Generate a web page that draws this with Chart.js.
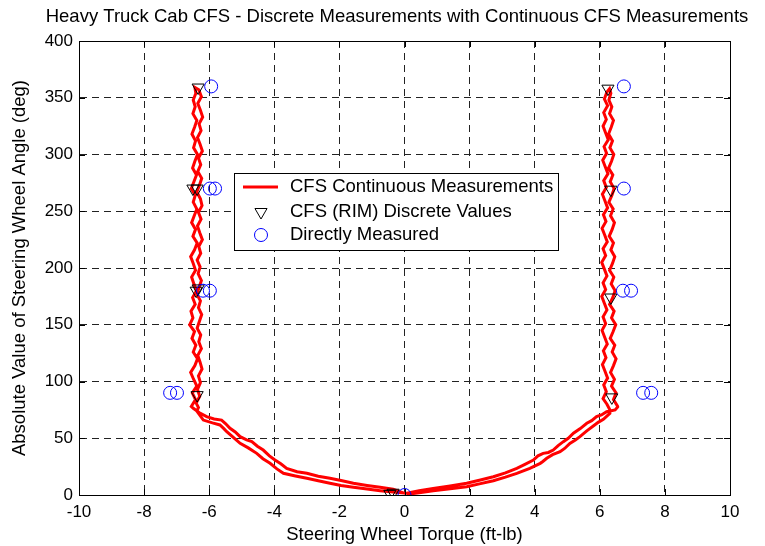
<!DOCTYPE html>
<html>
<head>
<meta charset="utf-8">
<script src="https://cdn.jsdelivr.net/npm/chart.js@4/dist/chart.umd.min.js"></script>
<style>
  html, body { margin: 0; padding: 0; background: #fff; }
  #wrap { width: 765px; height: 546px; }
</style>
</head>
<body>
<div id="wrap"><canvas id="cfs_chart" width="765" height="546"></canvas></div>
<script>
// Ejes
var xTicks = [-10, -8, -6, -4, -2, 0, 2, 4, 6, 8, 10];
var yTicks = [0, 50, 100, 150, 200, 250, 300, 350, 400];

// Curva continua CFS, por tramos [torque, angulo]
var leftLowOut = [[0.05,1.0],[-0.35,5.0],[-0.75,6.8],[-1.15,8.4],[-1.57,10.3],[-1.95,12.8],[-2.29,14.7],[-2.65,16.6],[-3.00,19.1],[-3.30,20.5],[-3.62,23.5],[-3.80,27.5],[-3.98,30.8],[-4.15,34.5],[-4.34,39.6],[-4.52,43.0],[-4.69,47.0],[-4.85,48.5],[-5.05,51.4],[-5.20,55.5],[-5.36,58.8],[-5.50,63.0],[-5.62,66.0],[-5.85,67.0],[-6.08,69.0],[-6.30,72.5],[-6.49,76.4]];
var leftUp = [[-6.55,78],[-6.42,84],[-6.52,90],[-6.38,96],[-6.48,102],[-6.57,108],[-6.44,114],[-6.36,120],[-6.49,126],[-6.41,132],[-6.53,138],[-6.45,144],[-6.60,150],[-6.50,156],[-6.56,162],[-6.43,168],[-6.51,174],[-6.39,180],[-6.47,186],[-6.54,192],[-6.42,198],[-6.49,204],[-6.57,210],[-6.45,216],[-6.37,222],[-6.50,228],[-6.42,234],[-6.54,240],[-6.46,246],[-6.38,252],[-6.49,258],[-6.43,264],[-6.55,270],[-6.47,276],[-6.39,282],[-6.51,288],[-6.44,294],[-6.36,300],[-6.48,306],[-6.42,312],[-6.53,318],[-6.45,324],[-6.38,330],[-6.50,336],[-6.43,342],[-6.49,348],[-6.41,354],[-6.44,359]];
var leftDown = [[-6.32,357],[-6.24,351],[-6.35,345],[-6.27,339],[-6.20,333],[-6.31,327],[-6.25,321],[-6.36,315],[-6.28,309],[-6.21,303],[-6.33,297],[-6.26,291],[-6.35,285],[-6.23,279],[-6.30,273],[-6.38,267],[-6.27,261],[-6.22,255],[-6.33,249],[-6.25,243],[-6.36,237],[-6.29,231],[-6.21,225],[-6.32,219],[-6.26,213],[-6.37,207],[-6.28,201],[-6.34,195],[-6.24,189],[-6.31,183],[-6.38,177],[-6.27,171],[-6.33,165],[-6.23,159],[-6.30,153],[-6.37,147],[-6.26,141],[-6.32,135],[-6.24,129],[-6.35,123],[-6.28,117],[-6.22,111],[-6.33,105],[-6.27,99],[-6.36,93],[-6.29,87],[-6.40,81],[-6.33,77]];
var leftLowIn = [[-6.38,74],[-6.18,66],[-5.90,63.5],[-5.67,61.7],[-5.55,58.5],[-5.46,55.8],[-5.25,50.5],[-5.05,45.5],[-4.80,41.5],[-4.54,36.7],[-4.35,32.0],[-4.13,27.9],[-3.92,23.0],[-3.72,19.1],[-3.35,16.8],[-3.00,14.7],[-2.65,12.5],[-2.29,10.3],[-1.95,8.4],[-1.57,6.8],[-1.15,5.2],[-0.75,3.8],[-0.35,2.6],[0.07,1.5]];
var rightLowOut = [[0.07,1.5],[0.45,3.8],[0.88,5.8],[1.40,8.0],[1.91,10.3],[2.30,13.0],[2.73,16.1],[3.10,19.5],[3.45,23.5],[3.70,27.0],[3.96,30.8],[4.10,34.5],[4.26,36.7],[4.42,37.5],[4.57,39.6],[4.72,43.5],[4.88,47.0],[5.03,50.0],[5.19,54.4],[5.40,58.5],[5.60,63.2],[5.75,65.5],[5.90,69.0],[6.05,70.5],[6.21,73.4],[6.47,74.9],[6.55,77.5]];
var rightUp = [[6.55,78],[6.42,84],[6.50,90],[6.36,96],[6.45,102],[6.33,108],[6.42,114],[6.50,120],[6.38,126],[6.46,132],[6.32,138],[6.41,144],[6.49,150],[6.36,156],[6.44,162],[6.30,168],[6.40,174],[6.47,180],[6.35,186],[6.43,192],[6.30,198],[6.39,204],[6.46,210],[6.34,216],[6.42,222],[6.29,228],[6.38,234],[6.45,240],[6.33,246],[6.41,252],[6.28,258],[6.37,264],[6.44,270],[6.32,276],[6.40,282],[6.27,288],[6.36,294],[6.43,300],[6.31,306],[6.39,312],[6.27,318],[6.35,324],[6.42,330],[6.30,336],[6.37,342],[6.28,348],[6.34,354],[6.30,358]];
var rightDown = [[6.22,355],[6.14,349],[6.24,343],[6.12,337],[6.20,331],[6.10,325],[6.18,319],[6.26,313],[6.13,307],[6.21,301],[6.09,295],[6.17,289],[6.25,283],[6.12,277],[6.20,271],[6.08,265],[6.16,259],[6.24,253],[6.11,247],[6.19,241],[6.07,235],[6.15,229],[6.23,223],[6.10,217],[6.18,211],[6.06,205],[6.14,199],[6.22,193],[6.10,187],[6.18,181],[6.06,175],[6.14,169],[6.22,163],[6.10,157],[6.18,151],[6.07,145],[6.15,139],[6.23,133],[6.11,127],[6.19,121],[6.08,115],[6.16,109],[6.24,103],[6.12,97],[6.20,91],[6.10,85],[6.22,80],[6.31,75]];
var rightLowIn = [[6.31,72],[6.11,66.7],[5.95,64.0],[5.80,60.8],[5.60,56.5],[5.39,51.4],[5.25,48.5],[5.08,45.5],[4.92,41.0],[4.78,38.1],[4.55,35.5],[4.37,32.3],[4.25,29.5],[4.17,27.9],[3.85,23.5],[3.45,19.1],[3.10,15.8],[2.73,12.6],[2.30,9.8],[1.91,7.3],[1.40,5.5],[0.88,3.8],[0.45,2.0],[0.07,0.5]];

// Valores discretos CFS (RIM)
var rimX = [-6.34, -6.50, -6.37, -6.34, -6.40, -6.37, 6.25, 6.34, 6.34, 6.37, -0.45, -0.35];
var rimY = [359, 270, 270, 182, 180, 88, 358, 269, 174, 86, 1, 2];

// Medidos directamente
var measX = [-5.94, -5.98, -5.82, -6.19, -5.98, -7.20, -6.99, 6.74, 6.74, 6.71, 6.96, 7.33, 7.58, 0.00];
var measY = [360, 270, 270, 180, 180, 90, 90, 360, 270, 180, 180, 90, 90, 0];

var chartTitle = "Heavy Truck Cab CFS - Discrete Measurements with Continuous CFS Measurements";
var legendLabels = ["CFS Continuous Measurements", "CFS (RIM) Discrete Values", "Directly Measured"];

function toPoints(xs, ys) {
  var pts = [];
  for (var i = 0; i < xs.length; i++) pts.push({ x: xs[i], y: ys[i] });
  return pts;
}

var cfsPath = [].concat(leftLowOut, leftUp, leftDown, leftLowIn, rightLowOut, rightUp, rightDown, rightLowIn)
  .map(function (p) { return { x: p[0], y: p[1] }; });

var FONT = "'Liberation Sans', Arial, sans-serif";

// Titulo, caja del eje, marcas internas y leyenda estilo MATLAB
var matlabFrame = {
  id: "matlabFrame",
  afterDraw: function (chart) {
    var ctx = chart.ctx;
    var a = chart.chartArea;
    var xs = chart.scales.x, ys = chart.scales.y;
    ctx.save();

    ctx.font = "18.5px " + FONT;
    ctx.fillStyle = "#000";
    ctx.textAlign = "center";
    ctx.textBaseline = "middle";
    ctx.fillText(chartTitle, 397, 17);

    ctx.strokeStyle = "#000";
    ctx.lineWidth = 1;
    ctx.setLineDash([]);
    ctx.strokeRect(Math.round(a.left) + 0.5, Math.round(a.top) + 0.5, Math.round(a.right - a.left), Math.round(a.bottom - a.top));
    ctx.beginPath();
    xTicks.forEach(function (v) {
      var px = Math.round(xs.getPixelForValue(v)) + 0.5;
      ctx.moveTo(px, a.bottom); ctx.lineTo(px, a.bottom - 6);
      ctx.moveTo(px, a.top); ctx.lineTo(px, a.top + 6);
    });
    yTicks.forEach(function (v) {
      var py = Math.round(ys.getPixelForValue(v)) + 0.5;
      ctx.moveTo(a.left, py); ctx.lineTo(a.left + 6, py);
      ctx.moveTo(a.right, py); ctx.lineTo(a.right - 6, py);
    });
    ctx.stroke();

    // leyenda
    var lx = 234, ly = 173, lw = 324, lh = 77;
    ctx.fillStyle = "#fff";
    ctx.fillRect(lx, ly, lw, lh);
    ctx.strokeStyle = "#000";
    ctx.strokeRect(lx + 0.5, ly + 0.5, lw, lh);
    ctx.font = "18.5px " + FONT;
    ctx.fillStyle = "#000";
    ctx.textBaseline = "middle";
    ctx.textAlign = "left";
    var rows = [187, 212, 235];
    legendLabels.forEach(function (t, i) { ctx.fillText(t, 290, rows[i]); });
    ctx.strokeStyle = "#ff0000";
    ctx.lineWidth = 3;
    ctx.beginPath(); ctx.moveTo(243, rows[0]); ctx.lineTo(278, rows[0]); ctx.stroke();
    ctx.lineWidth = 1;
    ctx.strokeStyle = "#000";
    ctx.fillStyle = "rgba(0,0,0,0)";
    Chart.helpers.drawPoint(ctx, { pointStyle: "triangle", rotation: 180, radius: 7, borderWidth: 1 }, 261, rows[1]);
    ctx.strokeStyle = "#0000ff";
    ctx.beginPath(); ctx.arc(261, rows[2], 6.5, 0, Math.PI * 2); ctx.stroke();
    ctx.restore();
  }
};

var ctx = document.getElementById("cfs_chart").getContext("2d");
var cfsChart = new Chart(ctx, {
  type: "scatter",
  data: {
    datasets: [
      {
        label: "Directly Measured",
        data: toPoints(measX, measY),
        pointStyle: "circle",
        pointRadius: 6.5,
        pointBorderColor: "#0000ff",
        pointBackgroundColor: "rgba(0,0,0,0)",
        pointBorderWidth: 1,
        order: 0
      },
      {
        label: "CFS (RIM) Discrete Values",
        data: toPoints(rimX, rimY),
        pointStyle: "triangle",
        pointRotation: 180,
        pointRadius: 7,
        pointBorderColor: "#000",
        pointBackgroundColor: "rgba(0,0,0,0)",
        pointBorderWidth: 1,
        order: 1
      },
      {
        label: "CFS Continuous Measurements",
        data: cfsPath,
        showLine: true,
        borderColor: "#ff0000",
        borderWidth: 3,
        pointRadius: 0,
        tension: 0,
        order: 2
      }
    ]
  },
  options: {
    responsive: false,
    animation: false,
    events: [],
    layout: { padding: { left: 0, right: 35, top: 41, bottom: 0 } },
    scales: {
      x: {
        type: "linear",
        min: -10,
        max: 10,
        afterFit: function (s) { s.height = 51; },
        afterBuildTicks: function (s) { s.ticks = xTicks.map(function (v) { return { value: v }; }); },
        grid: { color: "#222", lineWidth: 1, drawTicks: false },
        border: { display: true, color: "#000", dash: [7, 5] },
        ticks: { color: "#000", font: { family: FONT, size: 17 }, padding: 7, maxRotation: 0 },
        title: { display: true, text: "Steering Wheel Torque (ft-lb)", color: "#000", font: { family: FONT, size: 18.5 }, padding: { top: 0, bottom: 0 } }
      },
      y: {
        type: "linear",
        min: 0,
        max: 400,
        afterFit: function (s) { s.width = 79; },
        afterBuildTicks: function (s) { s.ticks = yTicks.map(function (v) { return { value: v }; }); },
        grid: { color: "#222", lineWidth: 1, drawTicks: false },
        border: { display: true, color: "#000", dash: [7, 5] },
        ticks: { color: "#000", font: { family: FONT, size: 17 }, padding: 6 },
        title: { display: true, text: "Absolute Value of Steering Wheel Angle (deg)", color: "#000", font: { family: FONT, size: 18.5 }, padding: { top: 9, bottom: 0 } }
      }
    },
    plugins: {
      legend: { display: false },
      tooltip: { enabled: false },
      title: { display: false }
    }
  },
  plugins: [matlabFrame]
});
</script>
</body>
</html>
